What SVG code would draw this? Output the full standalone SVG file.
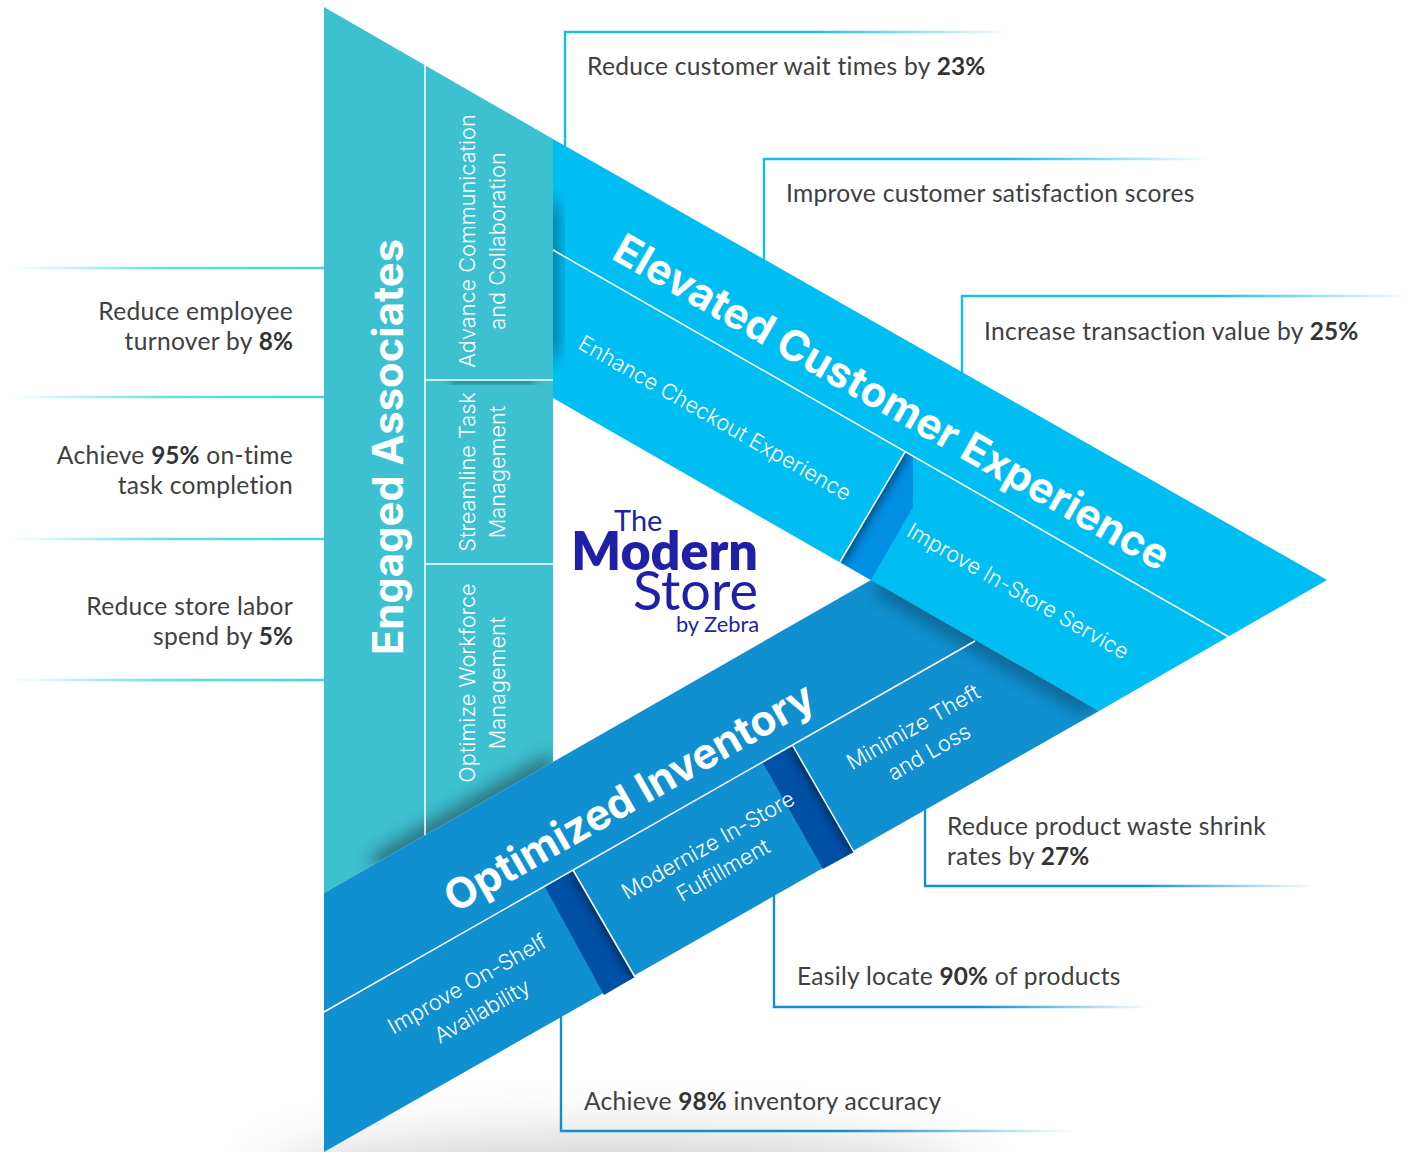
<svg xmlns="http://www.w3.org/2000/svg" width="1410" height="1152" viewBox="0 0 1410 1152">
<style>
text{font-family:"Lato","Liberation Sans",sans-serif}
.t{font-size:24.6px;fill:#404040;letter-spacing:.28px}
.r{text-anchor:end}
.b{font-weight:700;fill:#333;font-size:24.4px;letter-spacing:.1px}
.h{font-family:"Inter","Liberation Sans",sans-serif;font-weight:700;fill:#fff;text-anchor:middle;font-size:42.2px}
.s{font-family:"Inter","Liberation Sans",sans-serif;font-weight:300;fill:#fff;text-anchor:middle;font-size:21.7px}
.lg{fill:#1f1fa8;text-anchor:end}
.div{stroke:#fff;stroke-width:1.5;fill:none}
.c{fill:none;stroke-width:2.4}
.sh{fill:#0a2a3a}
</style>
<defs>
<linearGradient id="fc"><stop offset="0" stop-color="#16bdec"/><stop offset=".55" stop-color="#16bdec"/><stop offset="1" stop-color="#16bdec" stop-opacity="0"/></linearGradient>
<linearGradient id="fi"><stop offset="0" stop-color="#1090d0"/><stop offset=".55" stop-color="#1090d0"/><stop offset="1" stop-color="#1090d0" stop-opacity="0"/></linearGradient>
<linearGradient id="ft" gradientUnits="userSpaceOnUse" x1="324" y1="0" x2="8" y2="0"><stop offset="0" stop-color="#3fd6e2"/><stop offset=".5" stop-color="#3fd6e2" stop-opacity=".8"/><stop offset="1" stop-color="#3fd6e2" stop-opacity="0"/></linearGradient>
<filter id="b4" x="-50%" y="-50%" width="200%" height="200%"><feGaussianBlur stdDeviation="4"/></filter>
<filter id="b8" x="-50%" y="-50%" width="200%" height="200%"><feGaussianBlur stdDeviation="9"/></filter>
<filter id="b30" x="-30%" y="-100%" width="160%" height="300%"><feGaussianBlur stdDeviation="32"/></filter>
<clipPath id="cb"><polygon points="553,139 1327,580 1099,711 553,398"/></clipPath>
<clipPath id="ct"><polygon points="324,7 553,139 553,762 324,893"/></clipPath>
<clipPath id="cl"><rect x="425" y="381" width="128" height="30"/></clipPath>
<clipPath id="ci"><polygon points="324,893 871,580 1099,711 324,1152"/></clipPath>
<clipPath id="cf"><polygon points="905,452 913,457 913,507 871,580 840,562"/></clipPath>
<clipPath id="cf1"><polygon points="545,887 573,870 635,977 604,995"/></clipPath>
<clipPath id="cf2"><polygon points="763,763 793,746 854,852 823,869"/></clipPath>
</defs>

<ellipse cx="620" cy="1190" rx="360" ry="50" fill="#000" opacity=".2" filter="url(#b30)"/>

<g id="connectors">
<path class="c" stroke="url(#fc)" d="M565 146V32H1010"/>
<path class="c" stroke="url(#fc)" d="M764 260V159H1210"/>
<path class="c" stroke="url(#fc)" d="M962 374V296H1410"/>
<path class="c" stroke="url(#ft)" d="M324 268H8"/>
<path class="c" stroke="url(#ft)" d="M324 397H8"/>
<path class="c" stroke="url(#ft)" d="M324 539H8"/>
<path class="c" stroke="url(#ft)" d="M324 680H8"/>
<path class="c" stroke="url(#fi)" d="M925 808V886H1315"/>
<path class="c" stroke="url(#fi)" d="M774 895V1007H1150"/>
<path class="c" stroke="url(#fi)" d="M561 1016V1131H1075"/>
</g>

<g id="elevated-customer-experience">
<polygon points="553,139 1327,580 1099,711 553,398" fill="#00bdf2"/>
<g clip-path="url(#cb)"><rect class="sh" x="538" y="205" width="18" height="150" opacity=".6" filter="url(#b8)"/></g>
<polygon points="905,452 913,457 913,507 871,580 840,562" fill="#008fe3"/>
<g clip-path="url(#cf)"><path d="M840 562L905 452" stroke="#04264a" stroke-width="9" opacity=".65" fill="none" filter="url(#b4)"/></g>
<path class="div" d="M553 250L1229 637M840 562L905 452"/>
<text class="h" transform="translate(892 402) rotate(29.74)" dy=".35em">Elevated Customer Experience</text>
<text class="s" transform="translate(715 418) rotate(29.74)" dy=".35em">Enhance Checkout Experience</text>
<text class="s" transform="translate(1018 591) rotate(29.74)" dy=".35em">Improve In-Store Service</text>
</g>

<g id="engaged-associates">
<polygon points="324,7 553,139 553,762 324,893" fill="#3dc0d0"/>
<g clip-path="url(#cl)"><rect class="sh" x="450" y="376" width="85" height="6" opacity=".7" filter="url(#b4)"/></g>
<g clip-path="url(#ct)"><path d="M375 864L553 762" stroke="#1a2a30" stroke-width="14" opacity=".7" fill="none" filter="url(#b8)"/></g>
<path class="div" d="M425 65V836M425 380H553M425 564H553"/>
<text class="h" transform="translate(388 447) rotate(-90)" dy=".35em" style="font-size:41.8px">Engaged Associates</text>
<text class="s" transform="translate(475 241) rotate(-90)">Advance Communication</text>
<text class="s" transform="translate(505 241) rotate(-90)">and Collaboration</text>
<text class="s" transform="translate(475 472) rotate(-90)">Streamline Task</text>
<text class="s" transform="translate(505 472) rotate(-90)">Management</text>
<text class="s" transform="translate(475 683) rotate(-90)">Optimize Workforce</text>
<text class="s" transform="translate(505 683) rotate(-90)">Management</text>
</g>

<g id="optimized-inventory">
<polygon points="324,893 871,580 1099,711 324,1152" fill="#1090d0"/>
<g clip-path="url(#ci)"><path d="M880 585L1090 706" stroke="#0a2a3a" stroke-width="14" opacity=".6" fill="none" filter="url(#b8)"/></g>
<polygon points="545,887 573,870 635,977 604,995" fill="#0050a5"/>
<polygon points="763,763 793,746 854,852 823,869" fill="#0050a5"/>
<g clip-path="url(#cf1)"><path d="M573 870L635 977" stroke="#021a3a" stroke-width="8" opacity=".7" fill="none" filter="url(#b4)"/></g>
<g clip-path="url(#cf2)"><path d="M793 746L854 852" stroke="#021a3a" stroke-width="8" opacity=".7" fill="none" filter="url(#b4)"/></g>
<path class="div" d="M324 1012L975 641M573 870L635 977M793 746L854 852"/>
<text class="h" transform="translate(629 797) rotate(-29.74)" dy=".35em">Optimized Inventory</text>
<text class="s" transform="translate(467 984) rotate(-29.74)" dy=".35em">Improve On-Shelf</text>
<text class="s" transform="translate(482 1011) rotate(-29.74)" dy=".35em">Availability</text>
<text class="s" transform="translate(708 845) rotate(-29.74)" dy=".35em">Modernize In-Store</text>
<text class="s" transform="translate(723 870) rotate(-29.74)" dy=".35em">Fulfillment</text>
<text class="s" transform="translate(913 727) rotate(-29.74)" dy=".35em">Minimize Theft</text>
<text class="s" transform="translate(929 752) rotate(-29.74)" dy=".35em">and Loss</text>
</g>

<g id="logo">
<text x="614" y="531" style="font-size:29px;fill:#1f1fa8;font-weight:400">The</text>
<text class="lg" x="758" y="570" style="font-size:52px;font-weight:800">Modern</text>
<text class="lg" x="758" y="610" style="font-size:54px;font-weight:400">Store</text>
<text class="lg" x="759" y="632" style="font-size:21.8px;font-weight:400">by Zebra</text>
</g>

<g id="metrics">
<text class="t" x="587" y="75">Reduce customer wait times by <tspan class="b">23%</tspan></text>
<text class="t" x="786" y="202">Improve customer satisfaction scores</text>
<text class="t" x="984" y="340">Increase transaction value by <tspan class="b">25%</tspan></text>
<text class="t r" x="293" y="320">Reduce employee</text>
<text class="t r" x="293" y="350">turnover by <tspan class="b">8%</tspan></text>
<text class="t r" x="293" y="464">Achieve <tspan class="b">95%</tspan> on-time</text>
<text class="t r" x="293" y="494">task completion</text>
<text class="t r" x="293" y="615">Reduce store labor</text>
<text class="t r" x="293" y="645">spend by <tspan class="b">5%</tspan></text>
<text class="t" x="947" y="835">Reduce product waste shrink</text>
<text class="t" x="947" y="865">rates by <tspan class="b">27%</tspan></text>
<text class="t" x="797" y="985">Easily locate <tspan class="b">90%</tspan> of products</text>
<text class="t" x="584" y="1110">Achieve <tspan class="b">98%</tspan> inventory accuracy</text>
</g>
</svg>
